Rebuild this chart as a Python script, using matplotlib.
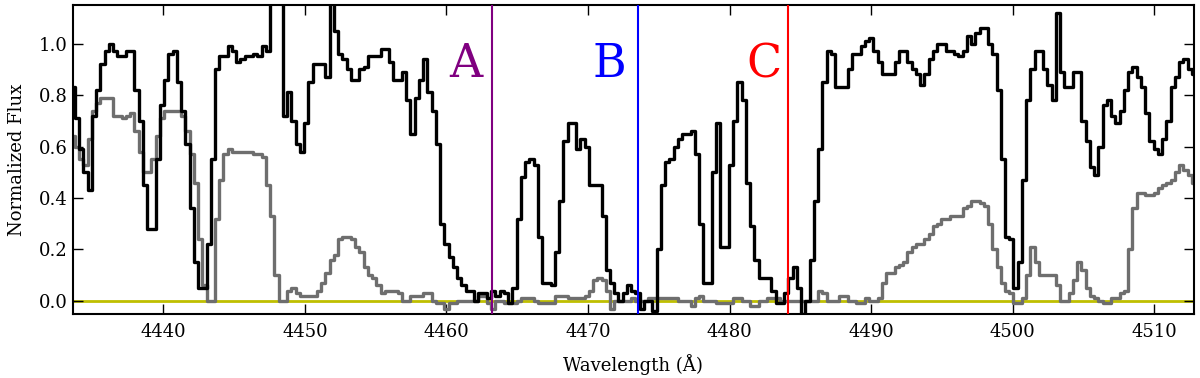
import numpy as np
import matplotlib
matplotlib.use('Agg')
import matplotlib.pyplot as plt
from matplotlib.ticker import FormatStrFormatter

plt.rcParams['font.family'] = 'DejaVu Serif'

# spectrum sampling (Angstrom)
wave_start = 4433.6
wave_step = 0.3

# black spectrum
flux_black = [
    0.83, 0.71, 0.59, 0.50, 0.43, 0.72, 0.82, 0.92, 0.97, 1.00,
    0.97, 0.95, 0.95, 0.97, 0.97, 0.82, 0.70, 0.45, 0.28, 0.28,
    0.55, 0.76, 0.86, 0.96, 0.97, 0.85, 0.74, 0.61, 0.36, 0.15,
    0.05, 0.05, 0.22, 0.55, 0.90, 0.95, 0.95, 0.99, 0.97, 0.93,
    0.94, 0.95, 0.95, 0.96, 0.95, 0.99, 0.97,
    1.30, 1.30, 1.30, 0.72, 0.81, 0.70, 0.61, 0.58, 0.69, 0.85,
    0.92, 0.92, 0.92, 0.87, 1.30, 1.05, 0.96, 0.94, 0.90, 0.86,
    0.86, 0.90, 0.91, 0.95, 0.95, 0.95, 0.98, 0.98, 0.93, 0.86,
    0.86, 0.89, 0.78, 0.65, 0.79, 0.86, 0.94, 0.81, 0.74, 0.61,
    0.30, 0.22, 0.17, 0.13, 0.09, 0.06, 0.04,
    0.04, 0.00, 0.03, 0.03, 0.01, 0.04, 0.02, 0.04, 0.03, -0.01,
    0.05, 0.32, 0.48, 0.54, 0.55, 0.53, 0.25, 0.07, 0.07, 0.06,
    0.19, 0.39, 0.62, 0.69, 0.69, 0.59, 0.63, 0.60, 0.45, 0.45,
    0.45, 0.33, 0.12, 0.07, 0.03, 0.00, 0.03, 0.06, 0.04, 0.03,
    -0.03, 0.00, 0.00, -0.04, 0.20, 0.45, 0.54,
    0.55, 0.60, 0.63, 0.65, 0.65, 0.66, 0.57, 0.30, 0.07, 0.07,
    0.50, 0.69, 0.21, 0.21, 0.53, 0.70, 0.85, 0.78, 0.46, 0.29,
    0.16, 0.09, 0.09, 0.09, 0.04, -0.01, -0.01, 0.03, 0.09, 0.13,
    0.05, -0.05, 0.00, 0.16, 0.39, 0.59, 0.85, 0.97, 0.96, 0.83,
    0.83, 0.83, 0.90, 0.96, 0.96, 0.99, 1.01, 1.02, 0.97, 0.93,
    0.88, 0.88, 0.88, 0.93, 0.97, 0.97, 0.93, 0.90, 0.88,
    0.84, 0.88, 0.94, 0.97, 1.00, 1.00, 0.97, 0.97, 0.96, 0.95,
    0.97, 1.03, 1.00, 1.04, 1.06, 1.06, 1.00, 0.96, 0.82, 0.55,
    0.25, 0.24, 0.05, 0.15, 0.47, 0.78, 0.90, 0.97, 0.97, 0.90,
    0.84, 0.78, 1.12, 0.89, 0.83,
    0.83, 0.89, 0.89, 0.70, 0.62, 0.52, 0.49, 0.60, 0.76, 0.78,
    0.72, 0.69, 0.74, 0.82, 0.89, 0.91, 0.87, 0.83, 0.73, 0.62,
    0.59, 0.57, 0.63, 0.70, 0.83, 0.87, 0.93, 0.94, 0.90, 0.88,
]

# grey spectrum
flux_grey = [
    0.64, 0.60, 0.55, 0.53, 0.63, 0.74, 0.77, 0.79, 0.79, 0.79,
    0.72, 0.72, 0.71, 0.72, 0.73, 0.66, 0.58, 0.50, 0.50, 0.55,
    0.64, 0.71, 0.74, 0.74, 0.74, 0.74, 0.72, 0.66, 0.57, 0.46,
    0.24, 0.06, 0.00, 0.00, 0.32, 0.47, 0.57, 0.59, 0.58, 0.58,
    0.58, 0.58, 0.58, 0.57, 0.57, 0.56, 0.45,
    0.33, 0.10, 0.00, 0.00, 0.04, 0.05, 0.03, 0.02, 0.02, 0.02,
    0.02, 0.04, 0.07, 0.11, 0.16, 0.18, 0.24, 0.25, 0.25, 0.24,
    0.21, 0.19, 0.13, 0.10, 0.09, 0.06, 0.03, 0.04, 0.04, 0.04,
    0.03, 0.00, 0.00, 0.02, 0.02, 0.02, 0.03, 0.03, 0.00, -0.01,
    -0.01, -0.03, -0.01, -0.01, 0.00, 0.00, 0.00,
    0.00, 0.00, 0.02, 0.02, -0.01, -0.03, 0.00, 0.00, -0.01, -0.01,
    -0.01, 0.00, 0.01, 0.01, 0.01, 0.00, -0.01, -0.01, -0.01, -0.01,
    0.02, 0.02, 0.02, 0.01, 0.01, 0.01, 0.01, 0.02, 0.04, 0.08,
    0.09, 0.08, 0.04, -0.03, 0.00, 0.00, 0.00, 0.00, 0.01, 0.00,
    0.00, 0.00, 0.01, 0.01, 0.01, 0.01, 0.01,
    0.01, 0.01, 0.00, 0.00, 0.00, -0.02, 0.01, 0.02, 0.00, 0.00,
    0.00, -0.01, -0.01, -0.01, -0.01, 0.01, 0.01, 0.00, 0.00, -0.02,
    -0.02, 0.00, 0.00, 0.01, 0.01, 0.01, 0.00, 0.00, 0.00, 0.00,
    0.00, 0.00, 0.00, 0.00, 0.00, 0.04, 0.03, 0.00, 0.00, 0.00,
    0.02, 0.02, 0.00, 0.00, -0.01, -0.01, 0.01, 0.00, 0.00, 0.01,
    0.07, 0.11, 0.11, 0.13, 0.14, 0.15, 0.19, 0.21, 0.22,
    0.22, 0.24, 0.26, 0.29, 0.30, 0.32, 0.32, 0.33, 0.33, 0.33,
    0.36, 0.37, 0.39, 0.39, 0.38, 0.37, 0.30, 0.20, 0.13, 0.07,
    0.04, 0.03, -0.01, -0.01, 0.01, 0.10, 0.21, 0.15, 0.10, 0.10,
    0.10, 0.10, 0.06, 0.00, 0.00, 0.03, 0.08, 0.15, 0.12, 0.05,
    0.02, 0.01, 0.00, -0.01, -0.01, 0.01, 0.01, 0.03, 0.04, 0.20,
    0.36, 0.42, 0.42, 0.41, 0.41, 0.42, 0.44, 0.45, 0.46, 0.47,
    0.50, 0.53, 0.51, 0.49, 0.46,
]

wave = wave_start + wave_step * np.arange(len(flux_black))

# marked lines
line_waves = [4463.25, 4473.5, 4484.13]
line_names = ['A', 'B', 'C']
line_colors = ['purple', 'blue', 'red']
label_waves = [4461.4, 4471.5, 4482.4]

fig = plt.figure(figsize=(12, 3.78), dpi=100)
ax = fig.add_axes([0.0606, 0.170, 0.9344, 0.8167])

ax.axhline(0, color='y', lw=2, zorder=1)
ax.step(wave, flux_grey, where='mid', color='0.43', lw=2.4, zorder=2)
ax.step(wave, flux_black, where='mid', color='k', lw=2.4, zorder=3)

for w, c in zip(line_waves, line_colors):
    ax.axvline(w, color=c, lw=1.5, zorder=4)
for w, name, c in zip(label_waves, line_names, line_colors):
    ax.text(w, 0.87, name, color=c, fontsize=33, ha='center', va='baseline')

ax.set_xlim(4433.6, 4512.8)
ax.set_ylim(-0.05, 1.15)
ax.set_xticks(np.arange(4440, 4511, 10))
ax.set_yticks([0.0, 0.2, 0.4, 0.6, 0.8, 1.0])
ax.yaxis.set_major_formatter(FormatStrFormatter('%.1f'))
ax.tick_params(direction='in', top=True, right=True, length=7, width=1, labelsize=13)
ax.tick_params(axis='x', pad=7)
for s in ax.spines.values():
    s.set_linewidth(1.5)

ax.set_xlabel('Wavelength (Å)', fontsize=13, labelpad=9)
ax.set_ylabel('Normalized Flux', fontsize=13, labelpad=9)

fig.savefig('out.png', dpi=100)
